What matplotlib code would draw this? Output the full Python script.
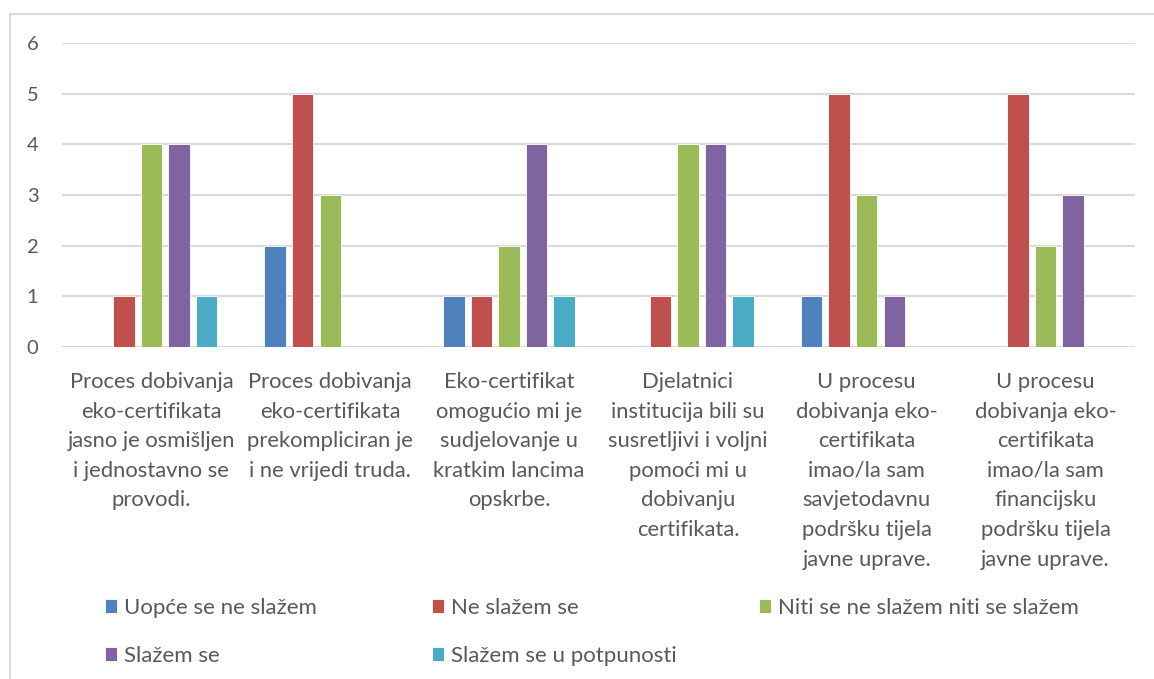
# grupirani stupčasti graf - odgovori ispitanika po tvrdnjama
import numpy as np
import matplotlib.pyplot as plt
from matplotlib.patches import Rectangle

# tvrdnje (kategorije na osi x)
kategorije = [
    'Proces dobivanja\neko-certifikata\njasno je osmišljen\ni jednostavno se\nprovodi.',
    'Proces dobivanja\neko-certifikata\nprekompliciran je\ni ne vrijedi truda.',
    'Eko-certifikat\nomogućio mi je\nsudjelovanje u\nkratkim lancima\nopskrbe.',
    'Djelatnici\ninstitucija bili su\nsusretljivi i voljni\npomoći mi u\ndobivanju\ncertifikata.',
    'U procesu\ndobivanja eko-\ncertifikata\nimao/la sam\nsavjetodavnu\npodršku tijela\njavne uprave.',
    'U procesu\ndobivanja eko-\ncertifikata\nimao/la sam\nfinancijsku\npodršku tijela\njavne uprave.',
]

# serije (stupnjevi slaganja)
serije = ['Uopće se ne slažem', 'Ne slažem se', 'Niti se ne slažem niti se slažem',
          'Slažem se', 'Slažem se u potpunosti']
uopce_ne = [0, 2, 1, 0, 1, 0]
ne_slazem = [1, 5, 1, 1, 5, 5]
niti_niti = [4, 3, 2, 4, 3, 2]
slazem = [4, 0, 4, 4, 1, 3]
potpuno = [1, 0, 1, 1, 0, 0]
vrijednosti = [uopce_ne, ne_slazem, niti_niti, slazem, potpuno]

boje = ['#4F81BD', '#C0504D', '#9BBB59', '#8064A2', '#4BACC6']

plt.rcParams['font.family'] = ['Lato', 'DejaVu Sans']
siva = '#595959'

fig = plt.figure(figsize=(11.54, 6.79), dpi=100)
ax = fig.add_axes([62 / 1154, 1 - 347 / 679, (1135 - 62) / 1154, (347 - 43) / 679])

# okvir oko cijelog grafikona
fig.patches.append(Rectangle((10 / 1154, -0.05), 1.2, 1 - 14 / 679 + 0.05,
                             transform=fig.transFigure, fill=False,
                             edgecolor='#D9D9D9', linewidth=1.5))

x = np.arange(len(kategorije))
korak = 0.154
sirina = 0.12
pruge = []
for i, (ime, v) in enumerate(zip(serije, vrijednosti)):
    b = ax.bar(x + (i - 2) * korak, v, width=sirina, color=boje[i],
               edgecolor='white', linewidth=0.6, label=ime, zorder=3)
    pruge.append(b)

ax.set_xlim(-0.5, len(kategorije) - 0.5)
ax.set_ylim(0, 6)
ax.set_yticks(range(7))
ax.grid(axis='y', color='#D9D9D9', linewidth=1.5, zorder=0)
for s in ax.spines.values():
    s.set_visible(False)
ax.tick_params(axis='both', length=0, colors=siva, labelsize=14.5)
ax.tick_params(axis='y', pad=17)
ax.tick_params(axis='x', pad=18, labelsize=15.8)
ax.set_xticks(x)
ax.set_xticklabels(kategorije, linespacing=1.6, va='top')

# legenda u tri stupca (zasebno da pozicije stupaca odgovaraju)
stupci = [[0, 3], [1, 4], [2]]
pozicije_x = [105, 432, 759]
for idx, px in zip(stupci, pozicije_x):
    leg = fig.legend([pruge[i] for i in idx], [serije[i] for i in idx],
                     loc='upper left', bbox_to_anchor=(px / 1154, 1 - 598 / 679),
                     frameon=False, fontsize=16, labelcolor=siva,
                     handlelength=0.55, handleheight=0.55, handletextpad=0.3,
                     labelspacing=1.25, borderaxespad=0, borderpad=0)

fig.savefig('out.png', dpi=100)
